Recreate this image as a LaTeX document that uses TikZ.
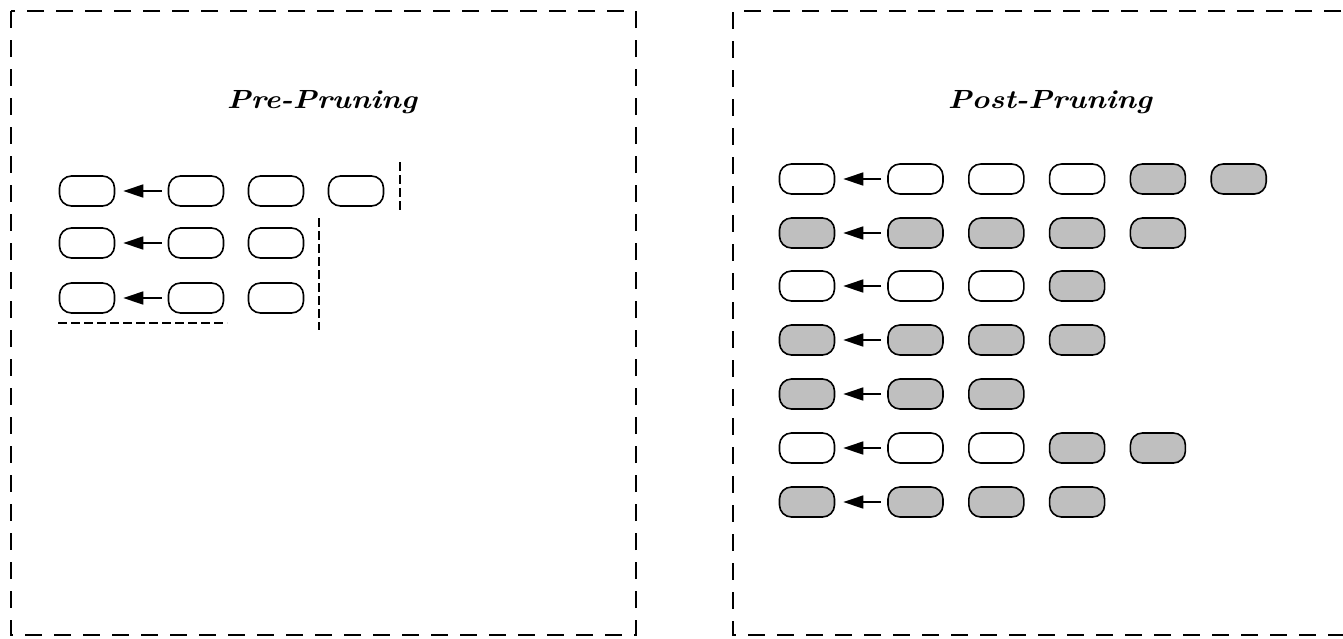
\documentclass[tikz,border=0pt]{standalone}
\usetikzlibrary{arrows.meta}
\begin{document}
\begin{tikzpicture}[x=1pt,y=-1pt,
  frame/.style={line width=2pt,dash pattern=on 17pt off 12pt},
  cut/.style={line width=1.4pt,dash pattern=on 9pt off 4pt},
  blob/.style={draw,line width=1.6pt,rounded corners=12pt,minimum width=55pt,minimum height=30pt,inner sep=0pt,fill=white},
  gblob/.style={blob,fill=gray!50!white},
  link/.style={line width=1.6pt,-{Triangle[length=20pt,width=13pt]},shorten >=8pt,shorten <=6pt},
  title/.style={inner sep=0pt,anchor=base}]
\useasboundingbox (0,0) rectangle (1343,638);
\clip (0,0) rectangle (1343,638);
% frames
\draw[frame] (11,11) rectangle (636,635);
\draw[frame] (1370,11) -- (733,11) -- (733,635) -- (1370,635);
% titles
\node[title] (t1) at (322,108) {\resizebox{190pt}{18pt}{\bfseries\itshape Pre-Pruning}};
\node[title] (t2) at (1050,108) {\resizebox{204pt}{18pt}{\bfseries\itshape Post-Pruning}};
% left panel
\node[blob] (a1) at (87,191) {};
\node[blob] (a2) at (196,191) {};
\node[blob] (a3) at (276,191) {};
\node[blob] (a4) at (356,191) {};
\node[blob] (b1) at (87,243) {};
\node[blob] (b2) at (196,243) {};
\node[blob] (b3) at (276,243) {};
\node[blob] (c1) at (87,298) {};
\node[blob] (c2) at (196,298) {};
\node[blob] (c3) at (276,298) {};
\draw[link] (a2) -- (a1);
\draw[link] (b2) -- (b1);
\draw[link] (c2) -- (c1);
\coordinate (v1a) at (400,162);
\coordinate (v1b) at (400,213);
\coordinate (v2a) at (319,218);
\coordinate (v2b) at (319,330);
\coordinate (h1a) at (58,323);
\coordinate (h1b) at (227,323);
\draw[cut] (v1a) -- (v1b);
\draw[cut] (v2a) -- (v2b);
\draw[cut] (h1a) -- (h1b);
% right panel
\foreach \r/\y/\pat in {1/179/{0,0,0,0,1,1},2/233/{1,1,1,1,1},3/286/{0,0,0,1},4/340/{1,1,1,1},5/394/{1,1,1},6/448/{0,0,0,1,1},7/502/{1,1,1,1}}{
  \foreach \g [count=\c] in \pat {
    \pgfmathsetmacro{\xx}{\c==1 ? 807 : 915.5+(\c-2)*80.8}
    \ifnum\g=1
      \node[gblob] (r\r-\c) at (\xx,\y) {};
    \else
      \node[blob] (r\r-\c) at (\xx,\y) {};
    \fi
  }
  \draw[link] (r\r-2) -- (r\r-1);
}
\end{tikzpicture}
\end{document}
